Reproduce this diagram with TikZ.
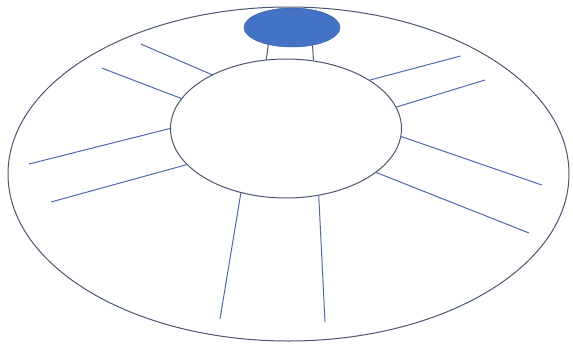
\documentclass[tikz,border=0pt]{standalone}
\usepackage{xcolor}
\usepackage{tikz}
\usetikzlibrary{shapes.geometric,positioning}
\definecolor{rimgray}{HTML}{4A5570}
\definecolor{spokeblue}{HTML}{5068B0}
\definecolor{capblue}{HTML}{4472C4}

\begin{document}
\begin{tikzpicture}[x=1pt,y=-1pt,
    disc/.style={ellipse,draw=rimgray,line width=1pt,inner sep=0pt},
    bluecap/.style={ellipse,fill=capblue,draw=capblue!85!black,line width=0.5pt,inner sep=0pt,
                minimum width=96pt,minimum height=39pt},
    spoke/.style={spokeblue,line width=1pt}]
\useasboundingbox (0,0) rectangle (573,343);
\node[disc,minimum width=561pt,minimum height=334pt] (rim) at (288.5,174) {};
\node[disc,fill=white,minimum width=231pt,minimum height=139pt] (hub) at (286,128.5) {};
\node[bluecap] (top) at (292,27.5) {};
% free ends of the spokes
\coordinate (ul1) at (140.7,44);
\coordinate (ul2) at (101.6,68);
\coordinate (l1) at (29,164);
\coordinate (l2) at (51,202);
\coordinate (b1) at (220,319);
\coordinate (b2) at (325,322);
\coordinate (ur1) at (460.5,56);
\coordinate (ur2) at (485,80);
\coordinate (r1) at (541.7,185);
\coordinate (r2) at (529,233);
\draw[spoke] (hub.144) -- (ul1);
\draw[spoke] (hub.164) -- (ul2);
\draw[spoke] (hub.180) -- (l1);
\draw[spoke] (hub.200) -- (l2);
\draw[spoke] (hub.235) -- (b1);
\draw[spoke] (hub.296) -- (b2);
\draw[spoke] (hub.30) -- (ur1);
\draw[spoke] (hub.11.5) -- (ur2);
\draw[spoke] (hub.356) -- (r1);
\draw[spoke] (hub.334) -- (r2);
\draw[spoke,rimgray] (hub.106) -- (top.216);
\draw[spoke,rimgray] (hub.68) -- (top.319);
\end{tikzpicture}
\end{document}
